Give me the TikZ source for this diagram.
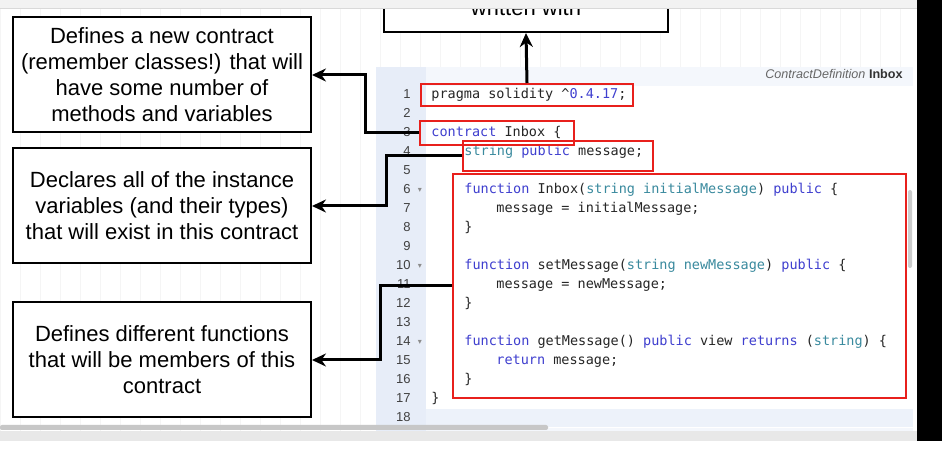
\documentclass[tikz,border=0pt]{standalone}
\usepackage{fontspec}
\setmainfont{Liberation Sans}
\newfontfamily\codefont{DejaVu Sans Mono}
\newfontfamily\symfont{DejaVu Sans}
\usetikzlibrary{arrows.meta,positioning}
\definecolor{kwblue}{HTML}{3F3FCF}
\definecolor{typeteal}{HTML}{3A8A9E}
\definecolor{codeink}{HTML}{262626}
\definecolor{hlred}{HTML}{E8201C}
\definecolor{gutterblue}{HTML}{E7EDF8}
\definecolor{rowblue}{HTML}{EDF2FA}
\newcommand{\kw}[1]{\textcolor{kwblue}{#1}}
\newcommand{\ty}[1]{\textcolor{typeteal}{#1}}

\begin{document}
\begin{tikzpicture}[x=0.5pt, y=-0.5pt,
      note/.style={draw=black, line width=1pt, fill=white,
        minimum width=149pt, minimum height=57.5pt, align=center,
        inner sep=0pt, font=\fontsize{11}{13}\selectfont},
      hl/.style={draw=hlred, line width=1pt, inner sep=0pt},
      code/.style={anchor=base west, inner sep=0pt, text=codeink,
        font=\codefont\fontsize{6.75}{8}\selectfont},
      lineno/.style={anchor=base east, inner sep=0pt, text=black!75,
        font=\fontsize{6.5}{8}\selectfont},
      fold/.style={inner sep=0pt, text=black!45, font=\symfont\fontsize{4}{4}\selectfont},
      arrow/.style={-{Stealth[length=7pt, width=6.5pt]}, line width=1.5pt, draw=black}
    ]
      \useasboundingbox (0,0) rectangle (942,458);
      \clip (0,0) rectangle (942,458);
      % canvas
      \fill[white] (0,0) rectangle (942,458);
      \draw[black!4, step=20] (0,0) grid (917,431);
      % editor panel
      \fill[rowblue!60] (376,67) rectangle (913,431);
      \fill[gutterblue] (376,67) rectangle (426,431);
      \fill[white] (426,86) rectangle (913,428);
      \fill[rowblue] (426,409) rectangle (913,427);
      \fill[black!20, rounded corners=1pt] (908,190) rectangle (912,268);
      \node[anchor=base east, inner sep=0pt, font=\fontsize{6.3}{8}\selectfont] (hdr) at (903,79)
        {\textcolor{black!60}{\textit{ContractDefinition}} \textcolor{black!80}{\textbf{Inbox}}};

      \foreach \n in {1,...,18}
        \node[lineno] (ln\n) at (411,{80+19*\n}) {\n};
      \foreach \n in {6,10,14}
        \node[fold] (fd\n) at (420,{76+19*\n}) {▾};

      % code
      \node[code] (c1) at (431,99) {pragma solidity \textasciicircum\kw{0.4.17};};
      \node[code] (c3) at (431,137) {\kw{contract} Inbox \{};
      \node[code] (c4) at (464,156) {\ty{string} \kw{public} message;};
      \node[code] (c6) at (464,194) {\kw{function} Inbox(\ty{string initialMessage}) \kw{public} \{};
      \node[code] (c7) at (496,213) {message = initialMessage;};
      \node[code] (c8) at (464,232) {\}};
      \node[code] (c10) at (464,270) {\kw{function} setMessage(\ty{string newMessage}) \kw{public} \{};
      \node[code] (c11) at (496,289) {message = newMessage;};
      \node[code] (c12) at (464,308) {\}};
      \node[code] (c14) at (464,346) {\kw{function} getMessage() \kw{public} view \kw{returns} (\ty{string}) \{};
      \node[code] (c15) at (496,365) {\kw{return} message;};
      \node[code] (c16) at (464,384) {\}};
      \node[code] (c17) at (431,403) {\}};

      % highlights
      \node[hl, minimum width=106pt, minimum height=11pt] (pragmahl) at (527,95) {};
      \node[hl, minimum width=77pt, minimum height=12pt] (contracthl) at (497,133) {};
      \node[hl, minimum width=95pt, minimum height=15pt] (stringhl) at (558,156) {};
      \node[hl, minimum width=226.5pt, minimum height=112pt] (funchl) at (679.5,286) {};

      % notes
      \node[note] (defnote) at (162,75) {Defines a new contract\\(remember classes!) that will\\have some number of\\methods and variables};
      \node[note, below=7pt of defnote] (varnote) {Declares all of the instance\\variables (and their types)\\that will exist in this contract};
      \node[note, below=18.5pt of varnote] (fnnote) {Defines different functions\\that will be members of this\\contract};
      \node[note, anchor=south, minimum width=142pt, minimum height=0pt,
        text height=30pt, text depth=8pt] (topnote) at (526,33) {written with};

      \draw[arrow] (pragmahl.north) -- (topnote.south);
      \draw[arrow] (contracthl.west) -- ++(-54,0) |- (defnote.east);
      \draw[arrow] (stringhl.west) -- ++(-76,0) |- (varnote.east);
      \draw[arrow] (funchl.west) -- ++(-72,0) |- (fnnote.east);

      % window chrome
      \fill[black!5] (0,0) rectangle (917,8);
      \draw[black!15] (0,8) -- (917,8);
      \fill[black!9] (0,431) rectangle (917,441);
      \fill[black!22, rounded corners=1pt] (0,425) rectangle (548,430);
      \fill[black] (917,0) rectangle (942,441);
    \end{tikzpicture}
\end{document}
